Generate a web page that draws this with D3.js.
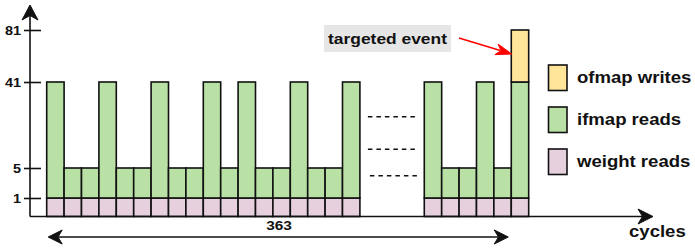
<!DOCTYPE html>
<html>
<head>
<meta charset="utf-8">
<script src="https://cdn.jsdelivr.net/npm/d3@7"></script>
<style>
  html, body { margin: 0; padding: 0; background: #fff; }
  text { font-family: "Liberation Sans", Arial, sans-serif; font-weight: bold; fill: #111; }
</style>
</head>
<body>
<div id="chart"></div>
<script>
// so lieu doc tu hinh
const leftIfmap   = [40, 4, 4, 40, 4, 4, 40, 4, 4, 40, 4, 40, 4, 4, 40, 4, 4, 40];
const rightIfmap  = [40, 4, 4, 40, 4, 40];
const rightOfmap  = [0, 0, 0, 0, 0, 40];
const weightRead  = 1;            // moi cot 1 don vi weight reads
const yTicks      = [1, 5, 41, 81];
const cycleSpan   = 363;
const legendItems = ["ofmap writes", "ifmap reads", "weight reads"];
const annotation  = "targeted event";

const W = 695, H = 249;
const colors = { ofmap: "#ffe599", ifmap: "#b9e0a5", weight: "#e6d0de" };
const SX = 1.16; // chu trong hinh goc bi gian ngang

const svg = d3.select("#chart").append("svg")
    .attr("width", W).attr("height", H);

// gom du lieu thanh bang cho d3.stack
const gapSlots = 3.7;
const rows = [];
leftIfmap.forEach((v, i) => rows.push({ slot: i, weight: weightRead, ifmap: v, ofmap: 0 }));
rightIfmap.forEach((v, i) => rows.push({
    slot: leftIfmap.length + gapSlots + i, weight: weightRead, ifmap: v, ofmap: rightOfmap[i]
}));
const nSlots = leftIfmap.length + gapSlots + rightIfmap.length;

const x = d3.scaleLinear().domain([0, nSlots]).range([46.7, 46.7 + nSlots * 17.4]);
const bw = x(1) - x(0);
// truc y khong deu (moc 0,1,5,41,81)
const y = d3.scaleLinear().domain([0, 1, 5, 41, 81]).range([216.5, 198, 168, 82, 30]);

const stack = d3.stack().keys(["weight", "ifmap", "ofmap"]);
const series = stack(rows);

series.forEach(s => {
    svg.append("g").selectAll("rect")
        .data(s.filter(d => d[1] > d[0]))
        .join("rect")
        .attr("x", d => x(d.data.slot))
        .attr("y", d => y(d[1]))
        .attr("width", bw)
        .attr("height", d => y(d[0]) - y(d[1]))
        .attr("fill", colors[s.key])
        .attr("stroke", "#111").attr("stroke-width", 1.6);
});

// mui ten kieu draw.io (co khia)
function arrowHead(tx, ty, ang, len, hw, col) {
    const c = Math.cos(ang), s = Math.sin(ang);
    const p = (a, b) => [tx - a * c - b * s, ty - a * s + b * c];
    const pts = [p(0, 0), p(len, -hw), p(len * 0.7, 0), p(len, hw)];
    svg.append("path").attr("d", "M" + pts.map(q => q.join(",")).join("L") + "Z")
        .attr("fill", col).attr("stroke", col).attr("stroke-width", 1);
}

// truc
const x0 = 30, yAxis0 = y(0);
svg.append("line").attr("x1", x0).attr("x2", x0).attr("y1", yAxis0).attr("y2", 14)
    .attr("stroke", "#111").attr("stroke-width", 1.6);
arrowHead(x0, 5, -Math.PI / 2, 15, 8, "#111");
svg.append("line").attr("x1", x0).attr("x2", 644).attr("y1", yAxis0).attr("y2", yAxis0)
    .attr("stroke", "#111").attr("stroke-width", 1.6);
arrowHead(653, yAxis0, 0, 15, 7.5, "#111");

const yAx = svg.append("g").attr("transform", `translate(${x0},0)`)
    .call(d3.axisLeft(y).tickValues(yTicks).tickSize(6).tickFormat(d3.format("d")));
yAx.select(".domain").remove();
yAx.selectAll(".tick line").attr("x1", -6).attr("x2", 11)
    .attr("stroke", "#111").attr("stroke-width", 1.6);
yAx.selectAll(".tick text")
    .attr("x", 0).attr("dy", null)
    .attr("transform", `translate(-9,4.5) scale(${SX},1)`)
    .style("font-size", "12.5px").style("font-family", "Liberation Sans, Arial, sans-serif")
    .style("font-weight", "bold").attr("fill", "#111");

function label(tx, ty, str, size, anchor) {
    return svg.append("text")
        .attr("transform", `translate(${tx},${ty}) scale(${SX},1)`)
        .attr("text-anchor", anchor || "start")
        .style("font-size", size + "px")
        .text(str);
}

// dau cham lung o khoang trong
const gx1 = x(leftIfmap.length) + 8, gx2 = x(leftIfmap.length + gapSlots) - 9;
[116.7, 149.3, 175.7].forEach((yy, i) => {
    svg.append("line")
        .attr("x1", gx1 + (i === 2 ? 2 : 0)).attr("x2", gx2 + (i === 2 ? 2 : 0))
        .attr("y1", yy).attr("y2", yy)
        .attr("stroke", "#111").attr("stroke-width", 1.6).attr("stroke-dasharray", "4.5,4");
});

// chu thich "targeted event"
svg.append("rect").attr("x", 324).attr("y", 25).attr("width", 127).attr("height", 27)
    .attr("fill", "#e6e6e6");
label(387.5, 44, annotation, 15, "middle");
const lastSlot = rows[rows.length - 1].slot;
const tipX = x(lastSlot) + 0.5, tipY = 54;
const ang = Math.atan2(tipY - 38, tipX - 459);
svg.append("line").attr("x1", 459).attr("y1", 38)
    .attr("x2", tipX - 12 * Math.cos(ang)).attr("y2", tipY - 12 * Math.sin(ang))
    .attr("stroke", "#ff0000").attr("stroke-width", 1.6);
arrowHead(tipX, tipY, ang, 16, 5.5, "#ff0000");

// chu giai
const legKeys = ["ofmap", "ifmap", "weight"];
legendItems.forEach((t, i) => {
    const top = 65 + i * 42;
    svg.append("rect").attr("x", 548.5).attr("y", top).attr("width", 18.5).attr("height", 25.5)
        .attr("fill", colors[legKeys[i]]).attr("stroke", "#111").attr("stroke-width", 1.6);
    label(577, top + 18, t, 16);
});

// mui ten hai dau 363 cycles
const ay = 237, ax1 = x(0) + 1.5, ax2 = x(lastSlot) - 3;
svg.append("line").attr("x1", ax1 + 10).attr("x2", ax2 - 10).attr("y1", ay).attr("y2", ay)
    .attr("stroke", "#111").attr("stroke-width", 1.6);
arrowHead(ax1, ay, Math.PI, 14, 7, "#111");
arrowHead(ax2, ay, 0, 14, 7, "#111");
label(279, 229.5, String(cycleSpan), 13.3, "middle");
label(629, 237, "cycles", 16);
</script>
</body>
</html>
